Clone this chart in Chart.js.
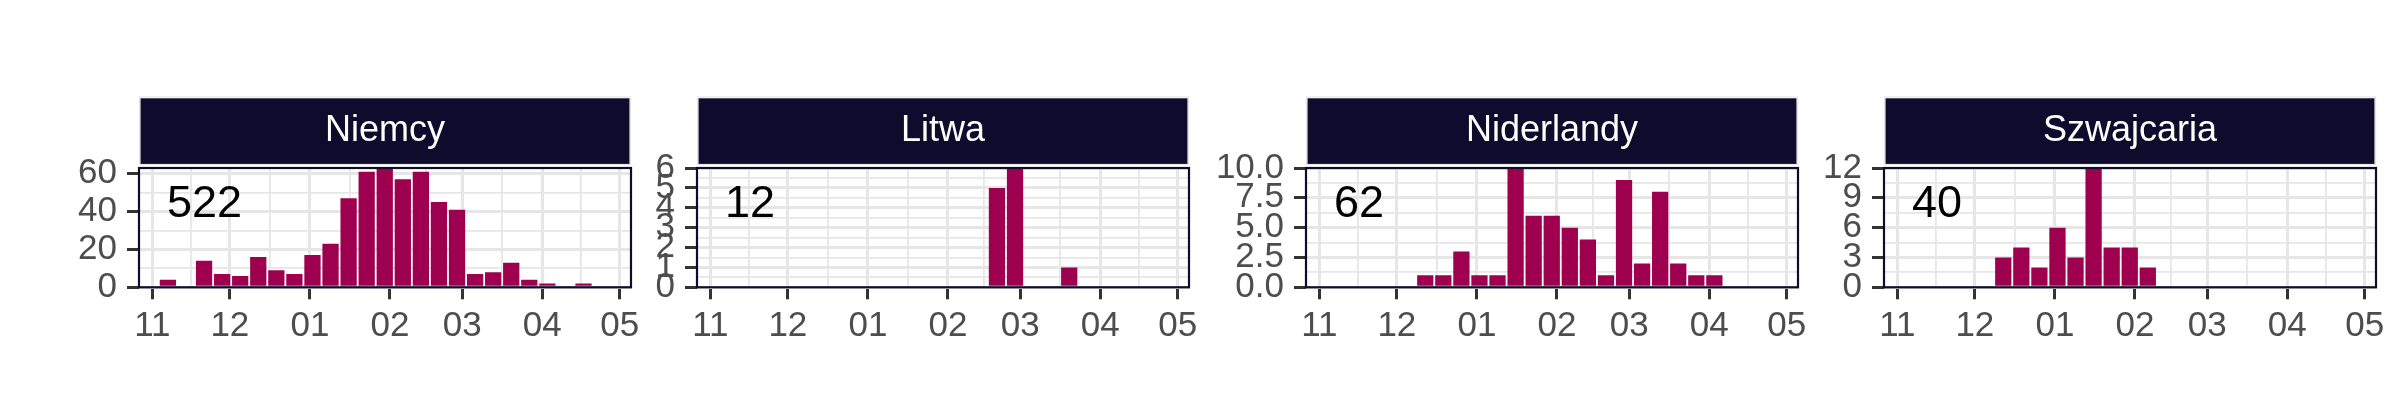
<!DOCTYPE html>
<html>
<head>
<meta charset="utf-8">
<script src="https://cdn.jsdelivr.net/npm/chart.js@4.4.0/dist/chart.umd.min.js"></script>
<style>
  html, body { margin: 0; padding: 0; background: #ffffff; }
  body { width: 2400px; height: 420px; position: relative; overflow: hidden; }
  canvas { position: absolute; top: 0; }
</style>
</head>
<body>
<canvas id="c0" width="636" height="420"></canvas>
<canvas id="c1" width="636" height="420"></canvas>
<canvas id="c2" width="636" height="420"></canvas>
<canvas id="c3" width="636" height="420"></canvas>
<script>
/* dane: tygodnie (środek słupka) */
const weeks = ['2022-11-07','2022-11-14','2022-11-21','2022-11-28','2022-12-05','2022-12-12',
  '2022-12-19','2022-12-26','2023-01-02','2023-01-09','2023-01-16','2023-01-23','2023-01-30',
  '2023-02-06','2023-02-13','2023-02-20','2023-02-27','2023-03-06','2023-03-13','2023-03-20',
  '2023-03-27','2023-04-03','2023-04-10','2023-04-17','2023-04-24'];
const monthTicks = ['2022-11-01','2022-12-01','2023-01-01','2023-02-01','2023-03-01','2023-04-01','2023-05-01'];
const monthLabels = ['11','12','01','02','03','04','05'];

const countries = ['Niemcy','Litwa','Niderlandy','Szwajcaria'];
const totals = ['522','12','62','40'];

const niemcy     = [4,0,14,7,6,16,9,7,17,23,47,61,63,57,61,45,41,7,8,13,4,2,0,2,0];
const litwa      = [0,0,0,0,0,0,0,0,0,0,0,0,0,0,0,5,6,0,0,1,0,0,0,0,0];
const niderlandy = [0,0,0,0,0,1,1,3,1,1,10,6,6,5,4,1,9,2,8,2,1,1,0,0,0];
const szwajcaria = [0,0,0,0,0,3,4,2,6,3,12,4,4,2,0,0,0,0,0,0,0,0,0,0,0];

const yTicksNiemcy     = ['0','20','40','60'];
const yTicksLitwa      = ['0','1','2','3','4','5','6'];
const yTicksNiderlandy = ['0.0','2.5','5.0','7.5','10.0'];
const yTicksSzwajcaria = ['0','3','6','9','12'];

/* kolory */
const navy = '#0F0B2C';
const barColor = '#9E004F';
const gridColor = '#E6E6E6';

/* położenie paneli (px) */
const panelLeft = [139, 697, 1306, 1884];
const panelWidth = 492;
const yAxisWidth = 120;

Chart.defaults.font.family = '"Liberation Sans", Arial, sans-serif';

// dni od 1 listopada
function dayOf(s) {
  return (Date.parse(s) - Date.parse(monthTicks[0])) / 864e5;
}

// główne + pomocnicze linie siatki (w połowie)
function withMinor(values, labels) {
  let out = [];
  for (let i = 0; i < values.length; i++) {
    out.push({ value: values[i], isMajor: true, lbl: labels[i] });
    if (i < values.length - 1) {
      out.push({ value: (values[i] + values[i + 1]) / 2, isMajor: false, lbl: '' });
    }
  }
  return out;
}

/* tło paska z nazwą, ramka panelu, liczba w rogu */
const facetPlugin = {
  id: 'facet',
  beforeDraw(chart) {
    let ctx = chart.ctx;
    let a = chart.chartArea;
    let t = chart.titleBlock;
    ctx.save();
    ctx.fillStyle = navy;
    ctx.fillRect(a.left + 1.5, t.top + 0.3, a.width - 3, a.top - 4 - (t.top + 0.3));
    ctx.strokeStyle = '#E4E4E4';
    ctx.lineWidth = 1.2;
    ctx.strokeRect(a.left + 0.5, t.top - 1, a.width - 1, a.top - 4 - t.top + 1.5);
    ctx.restore();
  },
  afterDraw(chart, args, opts) {
    let ctx = chart.ctx;
    let a = chart.chartArea;
    ctx.save();
    ctx.fillStyle = '#000000';
    ctx.font = '45px "Liberation Sans", Arial, sans-serif';
    ctx.textAlign = 'left';
    ctx.textBaseline = 'alphabetic';
    ctx.fillText(opts.total, a.left + 28, a.top + 48.5);
    ctx.strokeStyle = navy;
    ctx.lineWidth = 2.2;
    ctx.strokeRect(a.left, a.top, a.width, a.height);
    ctx.restore();
  }
};

function makeChart(idx, values, yLabels) {
  let canvas = document.getElementById('c' + idx);
  canvas.style.left = (panelLeft[idx] - yAxisWidth) + 'px';

  let xTicks = withMinor(monthTicks.map(dayOf), monthLabels);
  let yTicks = withMinor(yLabels.map(parseFloat), yLabels);
  let points = weeks.map((w, i) => ({ x: dayOf(w), y: values[i] }));

  let gridOpts = {
    offset: false,
    drawTicks: true,
    tickLength: 12,
    tickWidth: 3,
    color: c => gridColor,
    lineWidth: c => (c.tick && c.tick.isMajor) ? 3 : 1.8,
    tickColor: c => (c.tick && c.tick.isMajor) ? '#333333' : 'rgba(0,0,0,0)'
  };

  return new Chart(canvas.getContext('2d'), {
    type: 'bar',
    data: {
      datasets: [{
        data: points,
        backgroundColor: barColor,
        borderWidth: 0,
        barPercentage: 0.9,
        categoryPercentage: 1.0
      }]
    },
    options: {
      responsive: false,
      animation: false,
      devicePixelRatio: 1,
      layout: { padding: { left: 0, right: 24, top: 98, bottom: 72.7 } },
      plugins: {
        legend: { display: false },
        tooltip: { enabled: false },
        title: {
          display: true,
          text: countries[idx],
          color: '#FFFFFF',
          fullSize: false,
          font: { size: 36, weight: 'normal', lineHeight: 1 },
          padding: { top: 15, bottom: 19 }
        },
        facet: { total: totals[idx] }
      },
      scales: {
        x: {
          type: 'linear',
          offset: false,
          bounds: 'data',
          min: -5.2,
          max: 185.4,
          border: { display: false },
          grid: gridOpts,
          afterBuildTicks: s => { s.ticks = xTicks.map(t => Object.assign({}, t)); },
          afterFit: s => { s.height = 60; },
          ticks: {
            autoSkip: false,
            maxRotation: 0,
            padding: 6,
            color: '#4D4D4D',
            font: { size: 35 },
            callback: (v, i, ticks) => ticks[i].lbl
          }
        },
        y: {
          type: 'linear',
          min: 0,
          max: Math.max(...values),
          bounds: 'data',
          border: { display: false },
          grid: gridOpts,
          afterBuildTicks: s => { s.ticks = yTicks.map(t => Object.assign({}, t)); },
          afterFit: s => { s.width = yAxisWidth; },
          ticks: {
            autoSkip: false,
            padding: 10,
            color: '#4D4D4D',
            font: { size: 35 },
            callback: (v, i, ticks) => ticks[i].lbl
          }
        }
      }
    },
    plugins: [facetPlugin]
  });
}

makeChart(0, niemcy, yTicksNiemcy);
makeChart(1, litwa, yTicksLitwa);
makeChart(2, niderlandy, yTicksNiderlandy);
makeChart(3, szwajcaria, yTicksSzwajcaria);
</script>
</body>
</html>
